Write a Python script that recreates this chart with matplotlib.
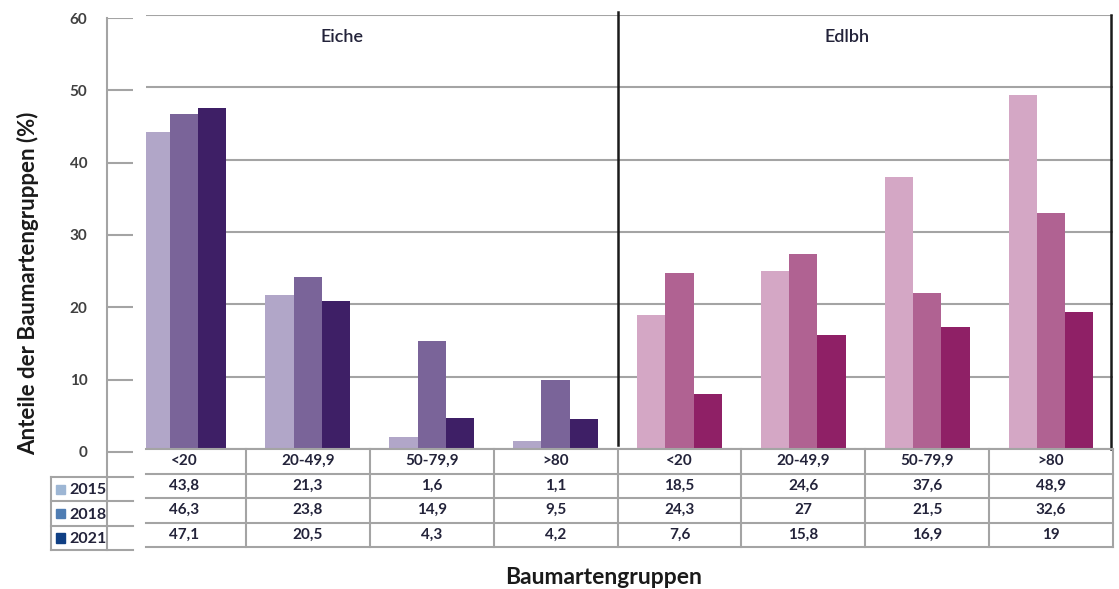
import matplotlib
matplotlib.use("Agg")
import matplotlib.pyplot as plt
from matplotlib.patches import Rectangle
import numpy as np

plt.rcParams['font.family'] = ['Lato', 'DejaVu Sans']

# ---------------- data ----------------
categories = ["<20", "20-49,9", "50-79,9", ">80", "<20", "20-49,9", "50-79,9", ">80"]
groups = ["Eiche", "Edlbh"]
years = ["2015", "2018", "2021"]
v2015 = [43.8, 21.3, 1.6, 1.1, 18.5, 24.6, 37.6, 48.9]
v2018 = [46.3, 23.8, 14.9, 9.5, 24.3, 27, 21.5, 32.6]
v2021 = [47.1, 20.5, 4.3, 4.2, 7.6, 15.8, 16.9, 19]
yticks = [0, 10, 20, 30, 40, 50, 60]

eiche_colors = ["#B1A6C8", "#7A6499", "#3E1F66"]
edlbh_colors = ["#D4A7C5", "#B06292", "#8F2066"]
legend_colors = ["#9DB6D4", "#4F7DB3", "#0F3F84"]

W, H = 1119, 589
fig = plt.figure(figsize=(W / 100, H / 100), dpi=100)
fig.patch.set_facecolor("white")


def add_ax(x0, y0, x1, y1):
    return fig.add_axes([x0 / W, 1 - y1 / H, (x1 - x0) / W, (y1 - y0) / H])


def fmt(v):
    return f"{v:g}".replace(".", ",")


grid_col = "#A4A4A4"
text_col = "#23233A"

# ---------------- underlying axis (left) ----------------
ax_u = add_ax(107, 18, 133, 477)
ax_u.set_ylim(-3.46, 60)
ax_u.set_xlim(0, 1)
for s in ["top", "right", "bottom"]:
    ax_u.spines[s].set_visible(False)
ax_u.spines["left"].set_color(grid_col)
ax_u.spines["left"].set_linewidth(1.5)
ax_u.set_yticks(yticks)
ax_u.set_yticklabels([str(t) for t in yticks], fontsize=11, fontweight="bold", color="#404040")
ax_u.tick_params(axis="y", length=0, pad=14)
ax_u.set_xticks([])
ax_u.yaxis.grid(True, color=grid_col, linewidth=1.5)
ax_u.set_axisbelow(True)
ax_u.patch.set_alpha(0)

# ---------------- legend table (left, underlying) ----------------
ax_l = add_ax(51, 477, 133, 550)
ax_l.set_xlim(0, 82)
ax_l.set_ylim(3, 0)
ax_l.axis("off")
for r in range(4):
    ax_l.plot([0, 82], [r, r], color=grid_col, lw=1.5, clip_on=False)
for xx in [0, 56]:
    ax_l.plot([xx, xx], [0, 3], color=grid_col, lw=1.5, clip_on=False)
for i, (yr, c) in enumerate(zip(years, legend_colors)):
    ax_l.add_patch(Rectangle((5, i + 0.32), 9, 0.38, color=c))
    ax_l.text(18, i + 0.55, yr, fontsize=11.5, fontweight="bold", color=text_col,
              ha="left", va="center")

# ---------------- main bar plot ----------------
xl = -0.5 + (146 - 122) / 124
ax = add_ax(146, 15, 1113, 449)
ax.set_xlim(xl, 7.5)
ax.set_ylim(0, 60)
for s in ax.spines.values():
    s.set_visible(False)
ax.set_xticks([])
ax.set_yticks(yticks)
ax.tick_params(axis="y", length=0, labelleft=False)
ax.yaxis.grid(True, color=grid_col, linewidth=1.5)
ax.set_axisbelow(True)

x = np.arange(len(categories))
bw = 0.228
series = [v2015, v2018, v2021]
for j, vals in enumerate(series):
    cols = [eiche_colors[j] if i < 4 else edlbh_colors[j] for i in range(len(categories))]
    ax.bar(x + (j - 1) * bw, vals, width=bw, color=cols, edgecolor="none", zorder=3)

ax.axvline(3.5, ymin=0.009, ymax=1.006, color="#1A1A1A", lw=1.8, clip_on=False, zorder=4)
ax.axvline(7.48, ymin=0.0, ymax=1.0, color="#1A1A1A", lw=1.8, clip_on=False, zorder=4)

ax.text((342 - 146) / 967, 0.949, groups[0], transform=ax.transAxes, fontsize=13,
        color=text_col, ha="center", va="center", fontweight="semibold")
ax.text((847 - 146) / 967, 0.949, groups[1], transform=ax.transAxes, fontsize=13,
        color=text_col, ha="center", va="center", fontweight="semibold")

# ---------------- data table ----------------
ax_t = add_ax(146, 449, 1113, 547)
ax_t.set_xlim(xl, 7.5)
ax_t.set_ylim(4, 0)
ax_t.axis("off")
for r in range(5):
    ax_t.plot([xl, 7.5], [r, r], color=grid_col, lw=1.5, clip_on=False)
for k in range(len(categories)):
    ax_t.plot([k + 0.5, k + 0.5], [0, 4], color=grid_col, lw=1.5, clip_on=False)
for i, cat in enumerate(categories):
    ax_t.text(i, 0.5, cat, fontsize=11, fontweight="bold", color=text_col,
              ha="center", va="center")
    for j, vals in enumerate(series):
        ax_t.text(i, j + 1.5, fmt(vals[i]), fontsize=11, fontweight="bold",
                  color=text_col, ha="center", va="center")

# ---------------- axis labels ----------------
fig.text(28 / W, 1 - 283 / H, "Anteile der Baumartengruppen (%)", rotation=90,
         fontsize=16, fontweight="bold", color="#1A1A1A", ha="center", va="center")
fig.text(604 / W, 1 - 578 / H, "Baumartengruppen", fontsize=16.5, fontweight="bold",
         color="#1A1A1A", ha="center", va="center")

fig.savefig("out.png", dpi=100, facecolor="white")
